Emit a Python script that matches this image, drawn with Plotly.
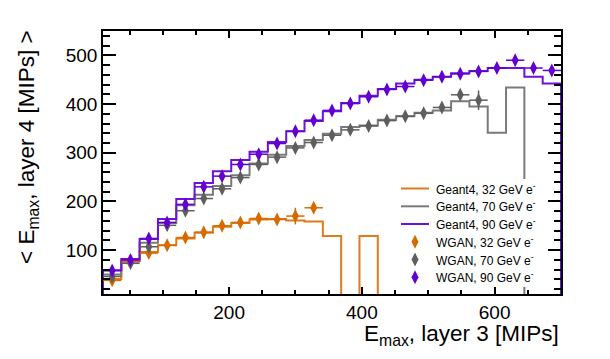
import plotly.graph_objects as go

# Binning (25 bins from 10 to 700)
bin_lo = 10.0
bin_hi = 700.0
n_bins = 25
bin_w = (bin_hi - bin_lo) / n_bins
edges = [bin_lo + i * bin_w for i in range(n_bins + 1)]
centers = [bin_lo + (i + 0.5) * bin_w for i in range(n_bins)]

# Geant4 histograms (mean Emax layer 4 per bin)
g4_32 = [41, 78, 96, 110, 124, 136, 148, 156, 163, 164, 161, 159, 129, 0, 129,
         0, 0, 0, 0, 0, 0, 0, 0]
g4_70 = [50, 77, 115, 156, 192, 214, 232, 254, 278, 296, 314, 326, 339, 353, 356,
         368, 375, 382, 387, 406, 395, 341, 434, 0, 0]
g4_90 = [59, 82, 123, 164, 205, 238, 262, 285, 302, 322, 344, 365, 385, 402, 417,
         431, 442, 450, 456, 463, 468, 474, 474, 456, 442]

# WGAN points
wg_32 = [38, 76, 94, 110, 126, 137, 150, 157, 165, 163, 170, 187]
wg_32_err = [2, 2, 2, 2, 2, 3, 3, 3, 4, 5, 17, 8]
wg_70 = [46, 73, 107, 151, 181, 206, 226, 249, 276, 291, 310, 321, 336, 347, 355,
         366, 375, 381, 393, 419, 408]
wg_70_err = [2, 2, 2, 2, 2, 2, 2, 2, 2, 2, 2, 3, 3, 3, 3, 3, 4, 4, 5, 8, 20]
wg_90 = [58, 80, 124, 157, 194, 230, 252, 276, 297, 319, 344, 367, 387, 401, 415,
         430, 436, 449, 456, 462, 467, 474, 490, 474, 469]
wg_90_err = [2, 2, 2, 2, 2, 2, 2, 2, 2, 2, 2, 2, 2, 3, 3, 3, 3, 3, 3, 4, 4, 5, 6, 7, 7]

labels = ["32", "70", "90"]
line_colors = ["#e07b1c", "#7a7a7a", "#6d12d9"]
mark_colors = ["#d66a00", "#5e5e5e", "#6200d0"]
legend_g4 = [f"Geant4, {l} GeV e<sup>-</sup>" for l in labels]
legend_wg = [f"WGAN, {l} GeV e<sup>-</sup>" for l in labels]

# figure geometry (pixels)
W, H = 610, 359
ML, MR, MT, MB = 103, 49, 31, 65
PW, PH = W - ML - MR, H - MT - MB


def px(x):
    return (x - ML) / PW


def py(y):
    return (H - MB - y) / PH


def step_path(vals):
    xs = [edges[0]]
    ys = [0]
    for i, v in enumerate(vals):
        xs += [edges[i], edges[i + 1]]
        ys += [v, v]
    xs.append(edges[len(vals)])
    ys.append(0)
    return xs, ys


fig = go.Figure()
for vals, name, col in zip([g4_32, g4_70, g4_90], legend_g4, line_colors):
    xs, ys = step_path(vals)
    fig.add_trace(go.Scatter(x=xs, y=ys, mode="lines",
                             line=dict(color=col, width=2), name=name,
                             showlegend=False, hoverinfo="skip"))

for vals, errs, name, col in zip([wg_32, wg_70, wg_90], [wg_32_err, wg_70_err, wg_90_err],
                                 legend_wg, mark_colors):
    fig.add_trace(go.Scatter(x=centers[:len(vals)], y=vals, mode="markers",
                             marker=dict(symbol="diamond-tall", size=10, color=col),
                             error_x=dict(type="constant", value=bin_w / 2, color=col,
                                          thickness=1.5, width=0),
                             error_y=dict(type="data", array=errs, color=col,
                                          thickness=1.5, width=0),
                             name=name, showlegend=False))

# ---- manual legend (ROOT TLegend look) on an overlay axis in plot fractions ----
leg_box = (398, 533, 179, 287)          # x0, x1, y0, y1 in pixels
rows_y = [188.5, 206.3, 224.0, 241.8, 259.5, 277.3]
line_x0, line_x1, mark_x, text_x = 401, 429, 415, 434

fig.add_trace(go.Scatter(
    x=[px(leg_box[0]), px(leg_box[1]), px(leg_box[1]), px(leg_box[0]), px(leg_box[0])],
    y=[py(leg_box[2]), py(leg_box[2]), py(leg_box[3]), py(leg_box[3]), py(leg_box[2])],
    fill="toself", fillcolor="white", line=dict(width=0), mode="lines",
    xaxis="x2", yaxis="y2", showlegend=False, hoverinfo="skip"))
for i, col in enumerate(line_colors):
    fig.add_trace(go.Scatter(x=[px(line_x0), px(line_x1)], y=[py(rows_y[i])] * 2,
                             mode="lines", line=dict(color=col, width=2),
                             xaxis="x2", yaxis="y2", showlegend=False, hoverinfo="skip"))
for i, col in enumerate(mark_colors):
    fig.add_trace(go.Scatter(x=[px(mark_x)], y=[py(rows_y[3 + i])], mode="markers",
                             marker=dict(symbol="diamond-tall", size=10, color=col),
                             xaxis="x2", yaxis="y2", showlegend=False, hoverinfo="skip"))

font_family = "Liberation Sans, Arial, Helvetica, sans-serif"
annotations = []
for i, txt in enumerate(legend_g4 + legend_wg):
    annotations.append(dict(text=txt, xref="paper", yref="paper", x=px(text_x),
                            y=py(rows_y[i]), xanchor="left", yanchor="middle",
                            showarrow=False,
                            font=dict(size=12, family=font_family, color="black")))
annotations += [
    dict(text="E<sub>max</sub>, layer 3 [MIPs]", xref="paper", yref="paper",
         x=1.0, y=py(319), xanchor="right", yanchor="top", showarrow=False,
         font=dict(size=22.5, family=font_family, color="black")),
    dict(text="< E<sub>max</sub>, layer 4 [MIPs] >", xref="paper", yref="paper",
         x=px(28), y=py(28), xanchor="center", yanchor="top", textangle=-90,
         showarrow=False, font=dict(size=22.5, family=font_family, color="black")),
]

fig.update_layout(
    width=W, height=H,
    margin=dict(l=ML, r=MR, t=MT, b=MB),
    plot_bgcolor="white", paper_bgcolor="white",
    font=dict(family=font_family, color="black"),
    showlegend=False,
    xaxis=dict(range=[bin_lo, bin_hi], showgrid=False, zeroline=False,
               showline=True, linecolor="black", linewidth=1.5, mirror="allticks",
               ticks="inside", ticklen=7, tickwidth=1.5, tickcolor="black",
               tick0=0, dtick=200, tickfont=dict(size=19),
               minor=dict(ticks="inside", dtick=50, ticklen=4, tickwidth=1.5,
                          tickcolor="black", showgrid=False)),
    yaxis=dict(range=[10, 550], showgrid=False, zeroline=False,
               showline=True, linecolor="black", linewidth=1.5, mirror="allticks",
               ticks="inside", ticklen=13, tickwidth=1.5, tickcolor="black",
               tick0=0, dtick=100, tickfont=dict(size=19),
               minor=dict(ticks="inside", dtick=20, ticklen=7, tickwidth=1.5,
                          tickcolor="black", showgrid=False)),
    xaxis2=dict(overlaying="x", range=[0, 1], visible=False, fixedrange=True),
    yaxis2=dict(overlaying="y", range=[0, 1], visible=False, fixedrange=True),
    annotations=annotations,
)

fig.write_html("out.html", config={"displayModeBar": False},
               post_script="document.body.style.margin='0';document.body.style.overflow='hidden';")
